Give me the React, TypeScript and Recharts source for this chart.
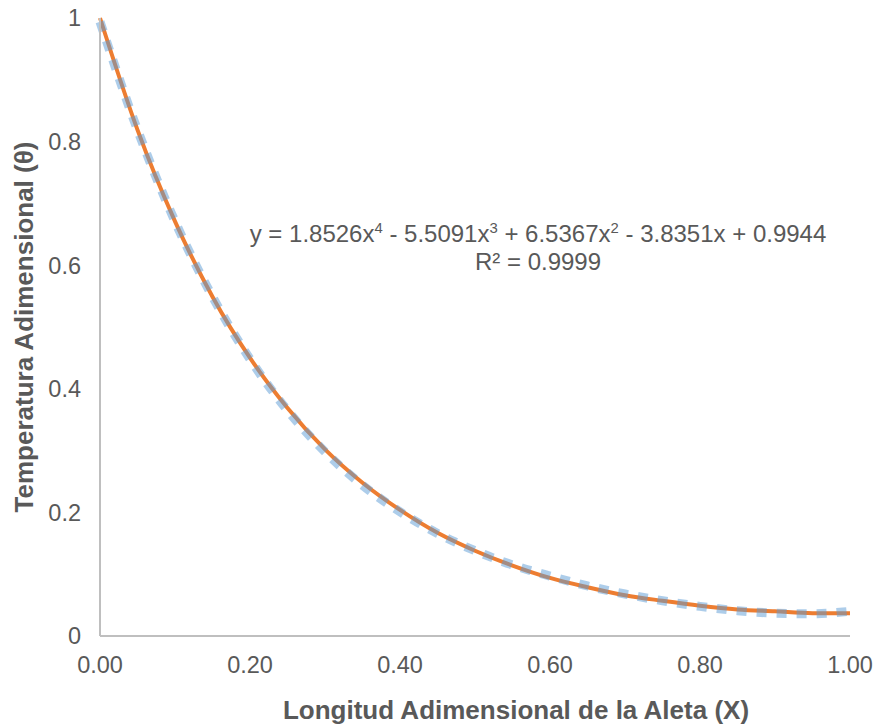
import { LineChart, Line, XAxis, YAxis } from "recharts";

// Longitud adimensional (X)
const posiciones = [
  0, 0.05, 0.1, 0.15, 0.2, 0.25, 0.3, 0.35, 0.4, 0.45, 0.5,
  0.55, 0.6, 0.65, 0.7, 0.75, 0.8, 0.85, 0.9, 0.95, 1,
];

// Temperatura adimensional medida (theta)
const temperaturas = [
  1, 0.819, 0.671, 0.549, 0.45, 0.369, 0.302, 0.248, 0.204, 0.167, 0.138,
  0.114, 0.094, 0.079, 0.066, 0.057, 0.049, 0.043, 0.04, 0.037, 0.037,
];

// Linea de tendencia polinomica (orden 4)
const tendencia = [
  0.994, 0.819, 0.671, 0.549, 0.448, 0.365, 0.298, 0.244, 0.201, 0.166, 0.138,
  0.115, 0.097, 0.081, 0.068, 0.057, 0.048, 0.041, 0.037, 0.036, 0.04,
];

const xTicks = [0, 0.2, 0.4, 0.6, 0.8, 1];
const yTicks = [0, 0.2, 0.4, 0.6, 0.8, 1];

const medida = posiciones.map((x, i) => ({ x, theta: temperaturas[i] }));
const ajuste = posiciones.map((x, i) => ({ x, fit: tendencia[i] }));

const FONT = '"Liberation Sans", Arial, sans-serif';
const GRIS = "#595959";
const tick = { fill: GRIS, fontSize: 23.5, fontFamily: FONT };
const titulo = { fill: GRIS, fontSize: 26, fontWeight: 700, fontFamily: FONT };

export default function App() {
  return (
    <div style={{ position: "relative", width: 879, height: 728, background: "#fff" }}>
      <style>{"body{margin:0}"}</style>
      <LineChart width={879} height={728} margin={{ top: 18, right: 29, bottom: 0, left: 0 }}>
        <XAxis
          dataKey="x"
          type="number"
          domain={[0, 1]}
          ticks={xTicks}
          tickFormatter={(v: number) => v.toFixed(2)}
          height={92}
          tickLine={false}
          tickSize={0}
          tickMargin={20}
          axisLine={{ stroke: "#BFBFBF", strokeWidth: 2 }}
          tick={tick}
          allowDuplicatedCategory={false}
          label={{
            value: "Longitud Adimensional de la Aleta (X)",
            position: "insideBottom",
            offset: 9,
            dx: 41,
            style: titulo,
          }}
        />
        <YAxis
          type="number"
          domain={[0, 1]}
          ticks={yTicks}
          width={100}
          tickLine={false}
          tickSize={0}
          tickMargin={19}
          axisLine={{ stroke: "#BFBFBF", strokeWidth: 2 }}
          tick={tick}
          label={{
            value: "Temperatura Adimensional (θ)",
            angle: -90,
            position: "insideLeft",
            offset: 24,
            style: { ...titulo, textAnchor: "middle" },
          }}
        />
        <Line
          data={medida}
          dataKey="theta"
          type="monotone"
          stroke="#ED7D31"
          strokeWidth={4}
          dot={false}
          isAnimationActive={false}
        />
        <Line
          data={ajuste}
          dataKey="fit"
          type="monotone"
          stroke="#5B9BD5"
          strokeOpacity={0.5}
          strokeWidth={9}
          strokeDasharray="10 10"
          dot={false}
          isAnimationActive={false}
        />
      </LineChart>
      <div
        style={{
          position: "absolute",
          left: 238,
          top: 220,
          width: 600,
          textAlign: "center",
          fontFamily: FONT,
          fontSize: 24,
          lineHeight: "27.6px",
          color: GRIS,
        }}
      >
        <div>
          y = 1.8526x<sup style={{ fontSize: "0.62em", lineHeight: 0 }}>4</sup> - 5.5091x
          <sup style={{ fontSize: "0.62em", lineHeight: 0 }}>3</sup> + 6.5367x
          <sup style={{ fontSize: "0.62em", lineHeight: 0 }}>2</sup> - 3.8351x + 0.9944
        </div>
        <div>R² = 0.9999</div>
      </div>
    </div>
  );
}
